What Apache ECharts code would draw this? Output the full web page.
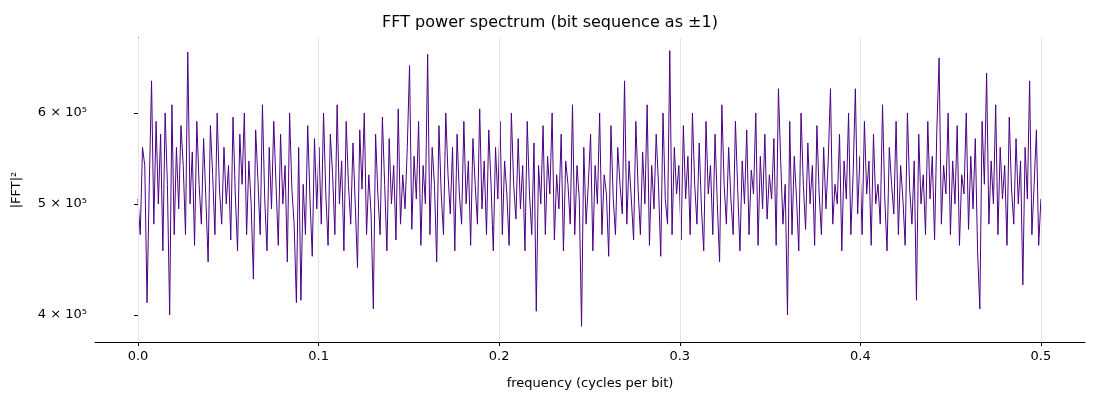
<!DOCTYPE html>
<html>
<head>
<meta charset="utf-8">
<script src="https://cdn.jsdelivr.net/npm/echarts@6/dist/echarts.min.js"></script>
<style>html,body{margin:0;padding:0;background:#fff}#chart{width:1100px;height:400px}</style>
</head>
<body>
<div id="chart"></div>
<script>
// power values, in thousands
var powerK = [
  505,470,560,540,410,520,640,480,590,500, 575,455,600,520,400,610,470,560,495,585, 540,470,678,500,555,460,590,520,480,570, 505,445,585,530,470,600,515,480,560,500,
  540,465,595,510,455,575,520,600,470,545, 500,430,580,525,470,610,505,455,560,495, 590,520,460,575,500,540,445,600,515,480, 410,560,412,520,470,585,505,450,570,495,
  560,480,600,510,460,575,530,470,610,500, 545,455,590,520,480,565,500,440,580,515, 600,470,530,490,405,575,510,470,595,520, 455,570,500,540,465,605,480,530,495,560,
  660,475,550,505,590,460,540,500,675,470, 560,520,445,585,510,470,600,530,490,560, 455,575,510,480,590,500,545,460,570,520, 480,605,495,545,470,580,520,455,560,505,
  590,470,545,510,460,600,520,485,570,495, 540,455,590,510,470,565,403,540,500,585, 470,550,510,600,465,530,495,575,455,545, 520,480,610,470,540,505,391,560,480,520,
  575,455,540,500,600,470,530,510,450,585, 505,470,560,520,490,640,480,545,505,465, 590,515,470,555,500,610,460,540,495,575, 520,450,600,505,480,680,470,560,510,540,
  465,585,505,550,470,600,520,480,565,495, 455,590,510,540,470,575,500,445,610,520, 480,560,505,470,590,515,455,545,500,580, 470,535,510,600,460,550,495,575,485,530,
  505,570,460,630,545,480,520,400,590,470, 550,505,455,600,520,475,565,500,540,460, 585,510,470,560,495,545,630,480,520,500, 575,455,545,505,600,470,530,630,490,550,
  470,590,510,545,460,575,500,520,480,610, 505,455,560,520,490,590,470,540,505,460, 600,515,480,545,412,575,500,530,470,590, 505,550,465,580,670,480,540,510,600,470,
  545,500,585,460,530,510,600,475,550,495, 570,455,405,590,520,650,480,545,500,610, 470,560,505,540,460,595,515,480,570,500, 545,425,560,505,640,470,520,580,460,505
];
var xTicks = [0, 0.1, 0.2, 0.3, 0.4, 0.5];
var yTicks = [400000, 500000, 600000];
var yTickLabels = ['4 × 10⁵', '5 × 10⁵', '6 × 10⁵'];

var n = powerK.length;
var points = powerK.map(function (v, i) { return [i * 0.5 / (n - 1), v * 1000]; });

var chart = echarts.init(document.getElementById('chart'));
chart.setOption({
  animation: false,
  title: {
    text: 'FFT power spectrum (bit sequence as ±1)',
    left: 'center', top: 10,
    textStyle: { fontFamily: 'DejaVu Sans', fontSize: 16, fontWeight: 'normal', color: '#000' }
  },
  grid: { left: 95, right: 15, top: 38, bottom: 58 },
  xAxis: {
    type: 'value', min: -0.0238, max: 0.5244,
    name: 'frequency (cycles per bit)', nameLocation: 'middle', nameGap: 35,
    nameTextStyle: { fontFamily: 'DejaVu Sans', fontSize: 13, color: '#000' },
    axisLine: { lineStyle: { color: '#000' } },
    axisTick: { customValues: xTicks, length: 4, lineStyle: { color: '#000' } },
    axisLabel: { customValues: xTicks, fontFamily: 'DejaVu Sans', fontSize: 13, color: '#000',
      formatter: function (v) { return v.toFixed(1); } },
    splitLine: { show: false }
  },
  yAxis: {
    type: 'log', min: 378900, max: 697500,
    name: '|FFT|²', nameLocation: 'middle', nameGap: 72,
    nameTextStyle: { fontFamily: 'DejaVu Sans', fontSize: 13, color: '#000' },
    axisLine: { show: true, lineStyle: { color: '#000' } },
    axisTick: { show: true, customValues: yTicks, length: 4, lineStyle: { color: '#000' } },
    axisLabel: { show: true, customValues: yTicks, fontFamily: 'DejaVu Sans', fontSize: 13, color: '#000',
      formatter: function (v) {
        var i = yTicks.indexOf(Math.round(v));
        return i >= 0 ? yTickLabels[i] : '';
      } },
    splitLine: { show: false }
  },
  series: [{
    type: 'line', data: points, showSymbol: false,
    lineStyle: { color: '#4b0082', width: 1 },
    markLine: {
      silent: true, symbol: 'none', animation: false,
      data: xTicks.map(function (v) {
        return { xAxis: v, lineStyle: { color: '#e6e6e6', width: 1, type: 'solid' }, label: { show: false } };
      })
    },
    z: 3
  }]
});
</script>
</body>
</html>
